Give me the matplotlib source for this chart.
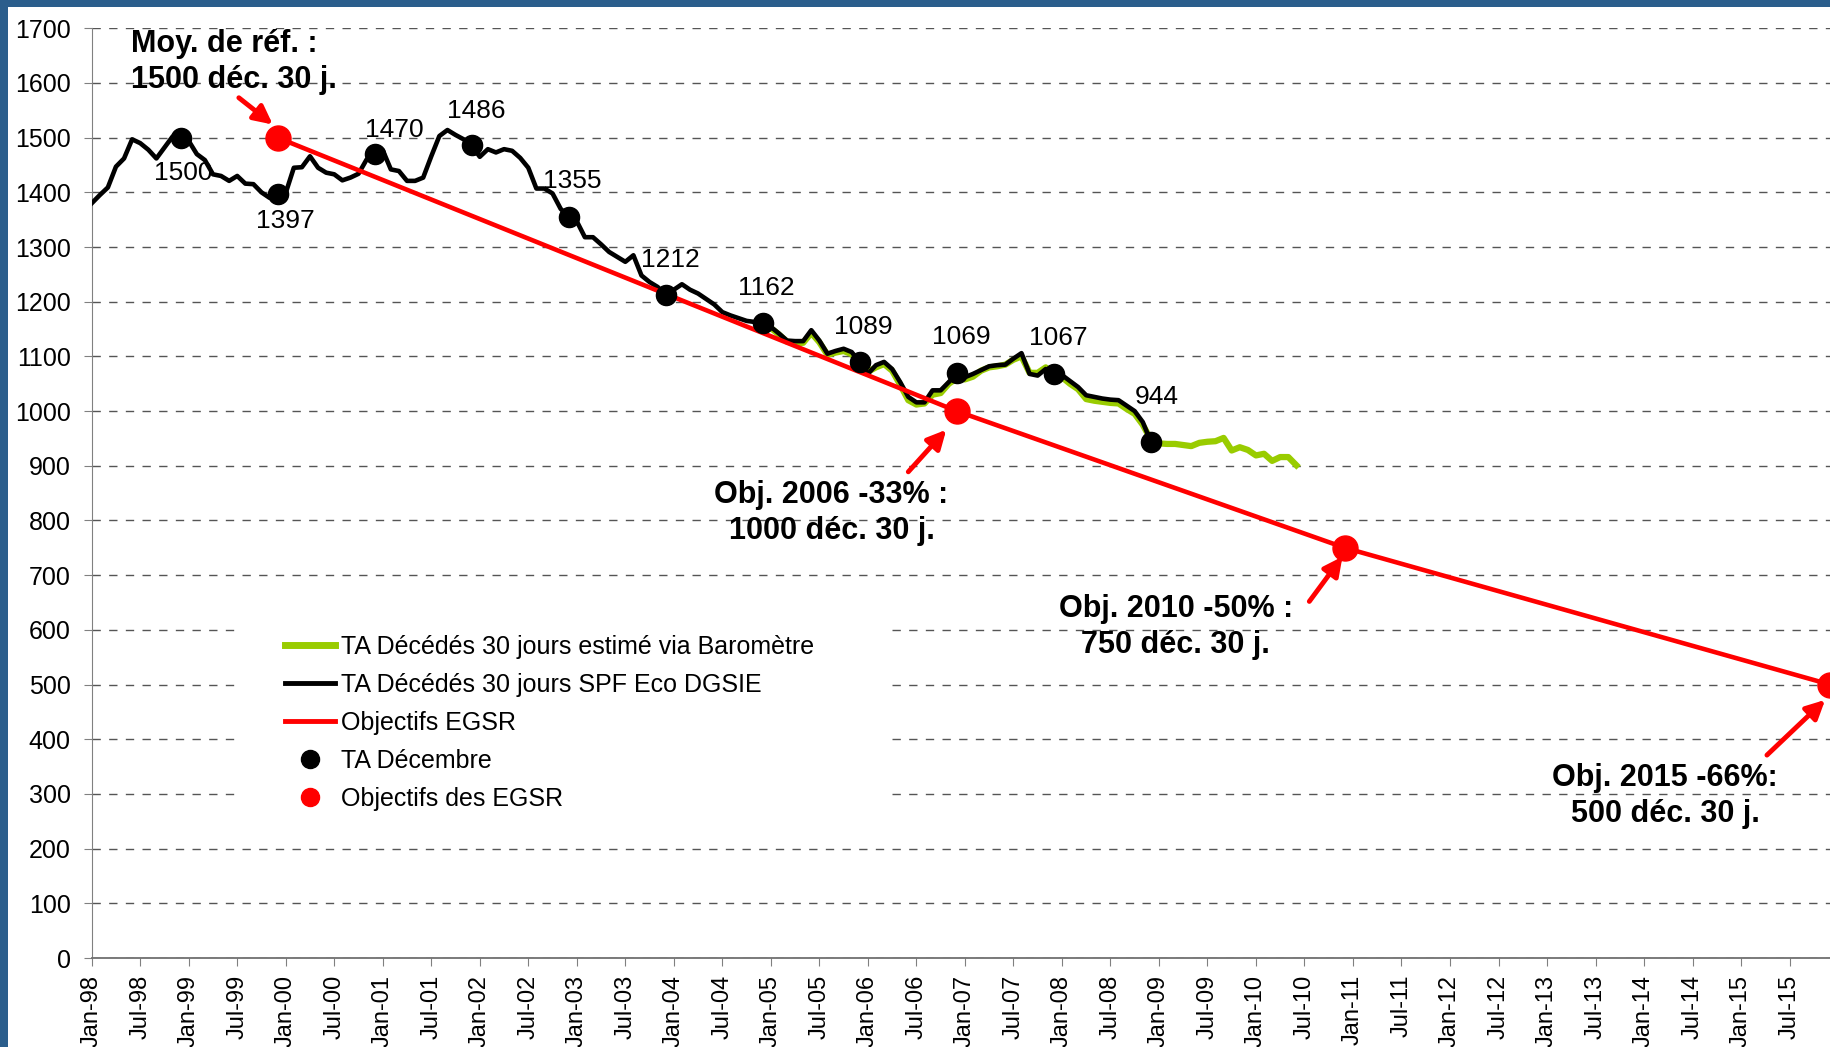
import matplotlib
matplotlib.use("Agg")
import matplotlib.pyplot as plt
from matplotlib.lines import Line2D
from matplotlib.patches import Rectangle

plt.rcParams['font.family'] = ['Liberation Sans', 'DejaVu Sans']

# -----------------------------
# Data (x = month index, 0 = Jan-98)
# -----------------------------
spf_start = 0
spf_vals = [1380, 1395, 1409, 1447, 1462, 1497, 1490, 1478, 1462, 1482, 1502, 1500,
            1494, 1470, 1459, 1433, 1430, 1421, 1430, 1416, 1415, 1400, 1390, 1397,
            1399, 1445, 1446, 1466, 1445, 1436, 1433, 1422, 1427, 1434, 1460, 1470,
            1477, 1442, 1439, 1421, 1421, 1427, 1466, 1503, 1514, 1505, 1497, 1486,
            1465, 1479, 1473, 1479, 1476, 1463, 1445, 1407, 1407, 1398, 1370, 1355,
            1347, 1318, 1318, 1305, 1291, 1282, 1273, 1285, 1248, 1236, 1227, 1212,
            1222, 1232, 1222, 1215, 1205, 1195, 1181, 1175, 1170, 1165, 1163, 1162,
            1154, 1142, 1129, 1128, 1128, 1148, 1129, 1105, 1110, 1114, 1108, 1089,
            1068, 1084, 1090, 1077, 1053, 1026, 1016, 1016, 1038, 1038, 1053, 1069,
            1062, 1068, 1075, 1082, 1084, 1085, 1096, 1106, 1068, 1065, 1077, 1067,
            1066, 1055, 1044, 1029, 1026, 1023, 1021, 1020, 1010, 1000, 980, 944]

baro_start = 83
baro_vals = [1160,
             1152, 1140, 1127, 1124, 1125, 1143, 1126, 1103, 1107, 1110, 1104, 1086,
             1072, 1080, 1086, 1074, 1048, 1020, 1012, 1014, 1030, 1033, 1050, 1060,
             1058, 1063, 1074, 1080, 1082, 1085, 1094, 1100, 1070, 1070, 1080, 1068,
             1062, 1050, 1040, 1022, 1019, 1017, 1015, 1014, 1004, 995, 975, 948,
             941, 940, 940, 938, 936, 942, 944, 945, 951, 928, 934, 929,
             919, 922, 909, 916, 916, 901]

dec_months = [11, 23, 35, 47, 59, 71, 83, 95, 107, 119, 131]
dec_vals = [1500, 1397, 1470, 1486, 1355, 1212, 1162, 1089, 1069, 1067, 944]
# label offsets in pixels (dx, dy)
dec_offsets = [(3, -35), (8, -27), (20, 24), (5, 34), (4, 36), (5, 35),
               (4, 35), (4, 35), (5, 36), (4, 36), (6, 45)]

obj_months = [23, 107, 155, 215]
obj_vals = [1500, 1000, 750, 500]

years = ['98', '99', '00', '01', '02', '03', '04', '05', '06',
         '07', '08', '09', '10', '11', '12', '13', '14', '15']
tick_labels = [m + '-' + y for y in years for m in ('Jan', 'Jul')]
tick_pos = list(range(0, 6 * len(tick_labels), 6))

# annotation texts: (lines, x, baseline y, ha) and arrows (tail, tip)
notes = [
    (['Moy. de réf. :', '1500 déc. 30 j.'], 4.86, [1657, 1591], 'left'),
    (['Obj. 2006 -33% :', '1000 déc. 30 j.'], 91.5, [832, 766], 'center'),
    (['Obj. 2010 -50% :', '750 déc. 30 j.'], 134.1, [624, 558], 'center'),
    (['Obj. 2015 -66%:', '500 déc. 30 j.'], 194.6, [315, 249], 'center'),
]
arrows = [((18.2, 1573), (22.4, 1524)),
          ((101.0, 889), (105.7, 966)),
          ((150.6, 652), (154.7, 734)),
          ((207.2, 371), (214.4, 472))]

# -----------------------------
# Figure
# -----------------------------
W, H = 1830, 1047
fig = plt.figure(figsize=(W / 100, H / 100), dpi=100)
ax = fig.add_axes([91.7 / W, 89 / H, 1738.3 / W, 929.7 / H])

# blue frame of the slide
fig.patches.append(Rectangle((0, 1 - 7 / H), 1, 7 / H, transform=fig.transFigure,
                             facecolor='#2B5E8C', edgecolor='none'))
fig.patches.append(Rectangle((0, 0), 8 / W, 1, transform=fig.transFigure,
                             facecolor='#2B5E8C', edgecolor='none'))

spf_x = list(range(spf_start, spf_start + len(spf_vals)))
baro_x = list(range(baro_start, baro_start + len(baro_vals)))

ax.plot(baro_x, baro_vals, color='#99CC00', lw=4.5, zorder=2, solid_joinstyle='round')
ax.plot(spf_x, spf_vals, color='black', lw=3.3, zorder=3)
ax.plot(obj_months, obj_vals, color='#FF0000', lw=3.3, zorder=4, clip_on=False)
ax.plot(dec_months, dec_vals, ls='none', marker='o', ms=14.5, color='black', zorder=5)
ax.plot(obj_months, obj_vals, ls='none', marker='o', ms=18, color='#FF0000',
        zorder=6, clip_on=False)

for m, v, (dx, dy) in zip(dec_months, dec_vals, dec_offsets):
    ax.annotate(str(v), (m, v), xytext=(dx, dy), textcoords='offset pixels',
                ha='center', va='center', fontsize=19, zorder=7)

for lines, x, ys, ha in notes:
    for txt, y in zip(lines, ys):
        ax.text(x, y, txt, ha=ha, va='baseline', fontsize=22, fontweight='bold', zorder=7)

for tail, tip in arrows:
    ax.annotate('', xy=tip, xytext=tail, annotation_clip=False,
                arrowprops=dict(arrowstyle='-|>', color='#FF0000', lw=3.5,
                                mutation_scale=28, shrinkA=0, shrinkB=0), zorder=7)

# axes
ax.set_xlim(0, 215)
ax.set_ylim(0, 1700)
ax.set_yticks(range(0, 1701, 100))
ax.set_xticks(tick_pos)
ax.set_xticklabels(tick_labels, rotation=90)
ax.tick_params(axis='y', length=6, color='#808080', pad=9, labelsize=18)
ax.tick_params(axis='x', length=6, color='#808080', pad=6, labelsize=17)
ax.yaxis.grid(True, color='#555555', linestyle=(0, (6, 6)), lw=1.0)
ax.set_axisbelow(True)
for s in ('top', 'right'):
    ax.spines[s].set_visible(False)
ax.spines['left'].set_color('#808080')
ax.spines['bottom'].set_color('#707070')
ax.spines['bottom'].set_linewidth(1.3)

# legend on a white patch hiding the gridlines
ax.add_patch(Rectangle((239 / W, 1 - 842 / H), 650 / W, 255 / H, transform=fig.transFigure,
                       facecolor='white', edgecolor='none', zorder=1))
handles = [Line2D([], [], color='#99CC00', lw=5),
           Line2D([], [], color='black', lw=3.5),
           Line2D([], [], color='#FF0000', lw=3.5),
           Line2D([], [], ls='none', marker='o', ms=13, color='black'),
           Line2D([], [], ls='none', marker='o', ms=13, color='#FF0000')]
labels = ['TA Décédés 30 jours estimé via Baromètre', 'TA Décédés 30 jours SPF Eco DGSIE',
          'Objectifs EGSR', 'TA Décembre', 'Objectifs des EGSR']
ax.legend(handles, labels, loc='upper left', bbox_to_anchor=(285 / W, 1 - 635 / H),
          bbox_transform=fig.transFigure, frameon=False, fontsize=18,
          handlelength=2.0, handletextpad=0.25, labelspacing=0.56,
          borderpad=0, borderaxespad=0)

fig.savefig('out.png', dpi=100)
